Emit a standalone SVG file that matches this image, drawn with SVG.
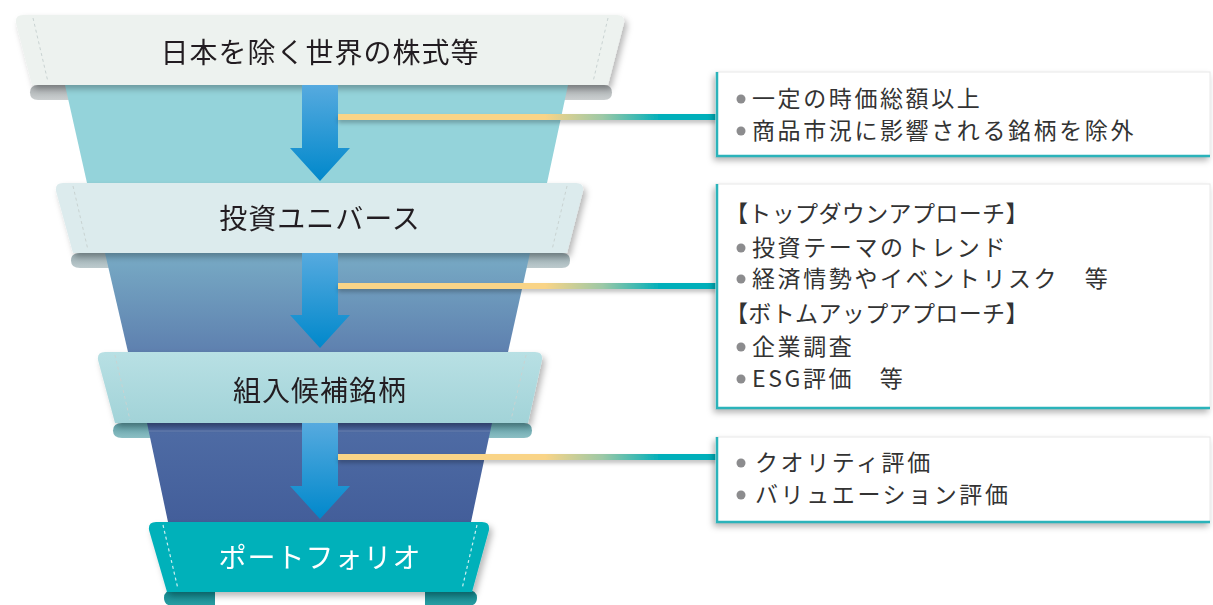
<svg xmlns="http://www.w3.org/2000/svg" width="1213" height="605" viewBox="0 0 1213 605">
<style>
.bt{font-family:"Noto Sans CJK JP","Noto Sans",sans-serif;font-size:28px;fill:#231F20;text-anchor:middle;letter-spacing:1px}
.bw{fill:#FFFFFF}
.tx{font-family:"Noto Sans CJK JP","Noto Sans",sans-serif;font-size:23px;fill:#333333;letter-spacing:2.6px}
.bul{fill:#8C8C8E}
.box{fill:#FFFFFF;stroke:#E8E8E8;stroke-width:1}
.bdr{stroke:#2BB3BA;stroke-width:2.5;fill:none}
.fold{fill:none;stroke:#C9D3D2;stroke-width:1;stroke-dasharray:3 3}
.foldw{fill:none;stroke:#FFFFFF;stroke-width:1.2;stroke-dasharray:3 3;opacity:0.8}
.arrow{fill:url(#gArrow)}
.link{fill:url(#gLink)}
</style>
<defs>
<linearGradient id="gArrow" x1="0" y1="0" x2="0" y2="1">
<stop offset="0" stop-color="#56AADF"/>
<stop offset="1" stop-color="#0088CB"/>
</linearGradient>
<linearGradient id="gLink" gradientUnits="userSpaceOnUse" x1="545" y1="0" x2="660" y2="0">
<stop offset="0" stop-color="#F9D487"/>
<stop offset="0.5" stop-color="#9CC8A6"/>
<stop offset="1" stop-color="#00AFBA"/>
</linearGradient>
<linearGradient id="gF2" x1="0" y1="0" x2="0" y2="1">
<stop offset="0" stop-color="#78ABC5"/>
<stop offset="1" stop-color="#5E80AF"/>
</linearGradient>
<linearGradient id="gF3" x1="0" y1="0" x2="0" y2="1">
<stop offset="0" stop-color="#3F5790"/>
<stop offset="0.08" stop-color="#4E6BA4"/>
<stop offset="1" stop-color="#435E9A"/>
</linearGradient>
<linearGradient id="gB3" x1="0" y1="0" x2="0" y2="1">
<stop offset="0" stop-color="#B8E0E4"/>
<stop offset="1" stop-color="#A2D3D8"/>
</linearGradient>
<linearGradient id="gC1" x1="0" y1="0" x2="0" y2="1">
<stop offset="0" stop-color="#A7ACAE"/>
<stop offset="1" stop-color="#CBCFD0"/>
</linearGradient>
<linearGradient id="gC2" x1="0" y1="0" x2="0" y2="1">
<stop offset="0" stop-color="#98ABB0"/>
<stop offset="1" stop-color="#BCCACD"/>
</linearGradient>
<linearGradient id="gC3" x1="0" y1="0" x2="0" y2="1">
<stop offset="0" stop-color="#5E9EA5"/>
<stop offset="1" stop-color="#8BBFC4"/>
</linearGradient>
<linearGradient id="gC4" x1="0" y1="0" x2="0" y2="1">
<stop offset="0" stop-color="#0E868C"/>
<stop offset="1" stop-color="#2A9EA3"/>
</linearGradient>
<filter id="shB" x="-10%" y="-30%" width="120%" height="170%">
<feDropShadow dx="3" dy="4" stdDeviation="3" flood-color="#000" flood-opacity="0.28"/>
</filter>
<filter id="shBox" x="-10%" y="-20%" width="120%" height="150%">
<feDropShadow dx="-2" dy="4" stdDeviation="3" flood-color="#000" flood-opacity="0.3"/>
</filter>
<filter id="shL" x="-5%" y="-100%" width="110%" height="400%">
<feDropShadow dx="0" dy="3" stdDeviation="2" flood-color="#000" flood-opacity="0.25"/>
</filter>
</defs>

<rect width="1213" height="605" fill="#FFFFFF"/>

<!-- funnel body -->
<g id="funnel">
<path d="M38,85 Q30,85 30,92.5 Q30,100 38,100 L70,100 L70,85 Z" fill="url(#gC1)"/>
<path d="M560,85 L604,85 Q612,85 612,92.5 Q612,100 604,100 L560,100 Z" fill="url(#gC1)"/>
<path d="M80,253 Q71,253 71,260.5 Q71,268 80,268 L110,268 L110,253 Z" fill="url(#gC2)"/>
<path d="M525,253 L562,253 Q570,253 570,260.5 Q570,268 562,268 L525,268 Z" fill="url(#gC2)"/>
<path d="M122,423 Q113,423 113,430.5 Q113,438 122,438 L152,438 L152,423 Z" fill="url(#gC3)"/>
<path d="M487,423 L524,423 Q532,423 532,430.5 Q532,438 524,438 L487,438 Z" fill="url(#gC3)"/>
<path d="M174,590 Q164,590 164,598 Q164,606 174,606 L215,606 L215,590 Z" fill="url(#gC4)"/>
<path d="M425,590 L467,590 Q477,590 477,598 Q477,606 467,606 L425,606 Z" fill="url(#gC4)"/>
<path d="M65,85 L568,85 L547,183 L87,183 Z" fill="#94D3DA"/>
<path d="M105,253 L530,253 L508,352 L128,352 Z" fill="url(#gF2)"/>
<path d="M147,423 L492,423 L471,522 L168,522 Z" fill="url(#gF3)"/>
<line x1="149" y1="431" x2="490" y2="431" stroke="#7E93BE" stroke-width="1" opacity="0.6"/>
</g>

<g id="node-world" filter="url(#shB)">
<path d="M23,15 L617,15 Q625,15 624,23 L608,85 L32,85 L16,23 Q15,15 23,15 Z" fill="#EDF2EF"/>
<path d="M33,18 L48,82 M608,18 L593,82" class="fold"/>
<text x="320" y="62.5" class="bt">日本を除く世界の株式等</text>
</g>

<g id="node-universe" filter="url(#shB)">
<path d="M63,183 L576,183 Q584,183 583,191 L567,253 L73,253 L56,191 Q55,183 63,183 Z" fill="#DCEBED"/>
<path d="M73,186 L88,250 M567,186 L552,250" class="fold"/>
<text x="320" y="228.5" class="bt">投資ユニバース</text>
</g>

<g id="node-candidates" filter="url(#shB)">
<path d="M105,352 L535,352 Q543,352 542,360 L528,423 L115,423 L98,360 Q97,352 105,352 Z" fill="url(#gB3)"/>
<path d="M115,355 L130,420 M526,355 L511,420" class="fold"/>
<text x="320" y="400.5" class="bt">組入候補銘柄</text>
</g>

<g id="node-portfolio" filter="url(#shB)">
<path d="M156,522 L482,522 Q490,522 489,530 L472,592 L167,592 L149,530 Q148,522 156,522 Z" fill="#00B1BA"/>
<path d="M163,525 L178,589 M477,525 L462,589" class="foldw"/>
<text x="320" y="568" class="bt bw">ポートフォリオ</text>
</g>

<g id="connectors">
<path class="arrow" d="M302,85 L338,85 L338,148 L350,148 L320,181 L290,148 L302,148 Z"/>
<path class="arrow" d="M302,253 L338,253 L338,315 L350,315 L320,348 L290,315 L302,315 Z"/>
<path class="arrow" d="M302,423 L338,423 L338,486 L350,486 L320,519 L290,486 L302,486 Z"/>
<g filter="url(#shL)">
<rect class="link" x="338" y="114" width="379" height="6"/>
<rect class="link" x="338" y="283" width="379" height="6"/>
<rect class="link" x="338" y="454" width="379" height="6"/>
</g>
</g>

<g id="note-1">
<rect class="box" x="716" y="72" width="494" height="84" filter="url(#shBox)"/>
<path class="bdr" d="M717,72 L717,156 L1210,156"/>
<circle class="bul" cx="741" cy="99" r="4.5"/>
<text class="tx" x="752" y="107">一定の時価総額以上</text>
<circle class="bul" cx="741" cy="131" r="4.5"/>
<text class="tx" x="752" y="139">商品市況に影響される銘柄を除外</text>
</g>

<g id="note-2">
<rect class="box" x="716" y="184" width="494" height="224" filter="url(#shBox)"/>
<path class="bdr" d="M717,184 L717,408 L1210,408"/>
<text class="tx" x="725" y="222" textLength="306" lengthAdjust="spacing">【トップダウンアプローチ】</text>
<circle class="bul" cx="741" cy="248" r="4.5"/>
<text class="tx" x="752" y="256">投資テーマのトレンド</text>
<circle class="bul" cx="741" cy="279" r="4.5"/>
<text class="tx" x="752" y="287">経済情勢やイベントリスク　等</text>
<text class="tx" x="725" y="322" textLength="306" lengthAdjust="spacing">【ボトムアップアプローチ】</text>
<circle class="bul" cx="741" cy="347" r="4.5"/>
<text class="tx" x="752" y="355">企業調査</text>
<circle class="bul" cx="741" cy="379" r="4.5"/>
<text class="tx" x="752" y="387">ESG評価　等</text>
</g>

<g id="note-3">
<rect class="box" x="716" y="437" width="494" height="85" filter="url(#shBox)"/>
<path class="bdr" d="M717,437 L717,522 L1210,522"/>
<circle class="bul" cx="741" cy="463" r="4.5"/>
<text class="tx" x="755" y="471">クオリティ評価</text>
<circle class="bul" cx="741" cy="495" r="4.5"/>
<text class="tx" x="755" y="503">バリュエーション評価</text>
</g>
</svg>
